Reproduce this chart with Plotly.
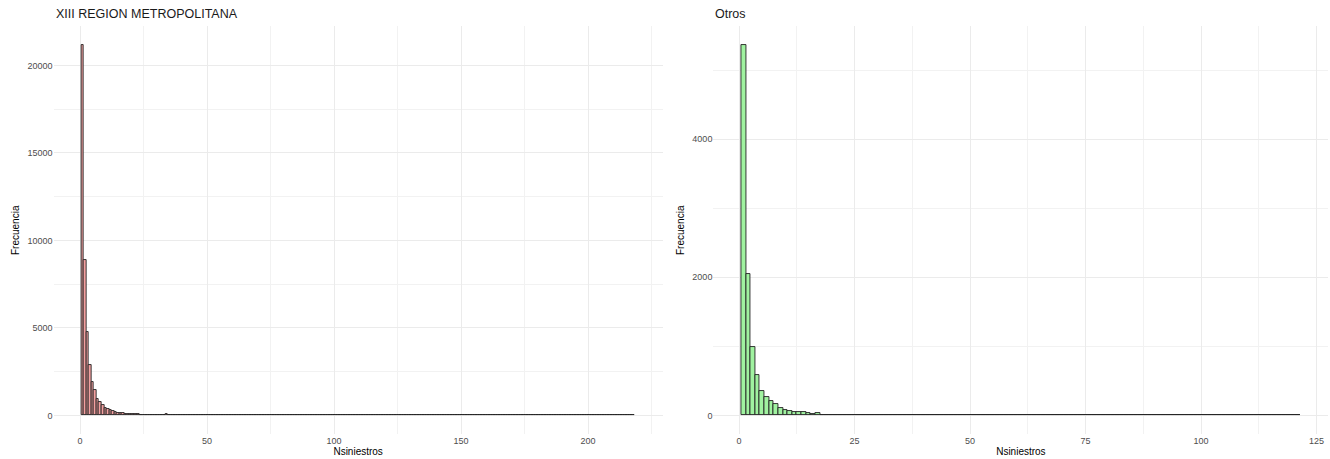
import numpy as np
import plotly.graph_objects as go
from plotly.subplots import make_subplots

# Histogram counts of Nsiniestros (bin width 1) per region group
metro_nsiniestros = [1, 2, 3, 4, 5, 6, 7, 8, 9, 10, 11, 12, 13, 14, 15, 16, 17, 18,
                     19, 20, 21, 22, 23, 24, 25, 26, 27, 28, 29, 30, 31, 32, 33, 34,
                     35, 218]
metro_frecuencia = [21190, 8900, 4760, 2900, 1940, 1430, 950, 760, 570, 440, 360, 285,
                    230, 190, 160, 135, 120, 110, 100, 95, 90, 85, 75, 30, 25, 22, 20,
                    18, 15, 12, 10, 5, 5, 60, 3, 1]

otros_nsiniestros = [1, 2, 3, 4, 5, 6, 7, 8, 9, 10, 11, 12, 13, 14, 15, 16, 17, 18,
                     19, 20, 21, 22, 23, 24, 121]
otros_frecuencia = [5370, 2045, 990, 590, 350, 265, 205, 168, 107, 86, 62, 48, 44,
                    43, 42, 24, 42, 8, 7, 6, 5, 5, 4, 4, 1]

titles = ["XIII REGION METROPOLITANA", "Otros"]
fills = ["#F4A0A0", "#A0F2A0"]


def full_bins(values, counts):
    """Expand sparse (value, count) pairs to every integer bin, empty bins = 0."""
    bins = np.arange(min(values), max(values) + 1)
    freq = np.zeros(len(bins))
    for v, c in zip(values, counts):
        freq[v - bins[0]] = c
    return bins, freq


FONT = "Liberation Sans, Arial, sans-serif"
W, H = 1330, 459

fig = make_subplots(rows=1, cols=2, horizontal_spacing=0.04)

panels = [
    (metro_nsiniestros, metro_frecuencia, [0, 50, 100, 150, 200], [25, 75, 125, 175, 225],
     [0, 5000, 10000, 15000, 20000], [2500, 7500, 12500, 17500]),
    (otros_nsiniestros, otros_frecuencia, [0, 25, 50, 75, 100, 125],
     [12.5, 37.5, 62.5, 87.5, 112.5], [0, 2000, 4000], [1000, 3000, 5000]),
]

# plot-area pixel extents of each panel
x_domains = [(53.6 / W, 662.7 / W), (713.4 / W, 1328.4 / W)]

for i, (vals, cnts, xt, xm, yt, ym) in enumerate(panels):
    col = i + 1
    bins, freq = full_bins(vals, cnts)
    fig.add_trace(
        go.Bar(
            x=bins, y=freq, width=1,
            marker=dict(color=fills[i], line=dict(color="#222222", width=0.9)),
            showlegend=False,
        ),
        row=1, col=col,
    )
    lo, hi = bins[0] - 0.5, bins[-1] + 0.5
    xpad = 0.05 * (hi - lo)
    ypad = 0.05 * freq.max()
    axis_common = dict(
        showline=False, zeroline=False, ticks="",
        gridcolor="#EBEBEB", gridwidth=1,
        tickfont=dict(family=FONT, size=9, color="#4D4D4D"),
    )
    fig.update_xaxes(
        range=[lo - xpad, hi + xpad], tickvals=xt, ticktext=[str(v) for v in xt],
        domain=list(x_domains[i]),
        minor=dict(tickvals=xm, showgrid=True, gridcolor="#F2F2F2", gridwidth=1),
        title=dict(text="Nsiniestros", font=dict(family=FONT, size=10, color="black"),
                   standoff=2),
        **axis_common, row=1, col=col,
    )
    fig.update_yaxes(
        range=[-ypad, freq.max() + ypad], tickvals=yt, ticktext=[str(v) for v in yt],
        minor=dict(tickvals=ym, showgrid=True, gridcolor="#F2F2F2", gridwidth=1),
        **axis_common, row=1, col=col,
    )

    fig.add_annotation(
        text=titles[i], xref="paper", yref="paper",
        x=x_domains[i][0], y=1, xanchor="left", yanchor="bottom", yshift=3,
        showarrow=False, font=dict(family=FONT, size=12.5, color="#1a1a1a"),
    )
    # y-axis title
    fig.add_annotation(
        text="Frecuencia", xref="paper", yref="paper",
        x=[15 / W, 680 / W][i], y=0.5, xanchor="center", yanchor="middle",
        textangle=-90, showarrow=False,
        font=dict(family=FONT, size=10, color="black"),
    )

fig.update_layout(
    width=W, height=H,
    margin=dict(l=0, r=0, t=25.5, b=25.1),
    plot_bgcolor="white", paper_bgcolor="white",
    bargap=0,
)

fig.write_html("out.html")
